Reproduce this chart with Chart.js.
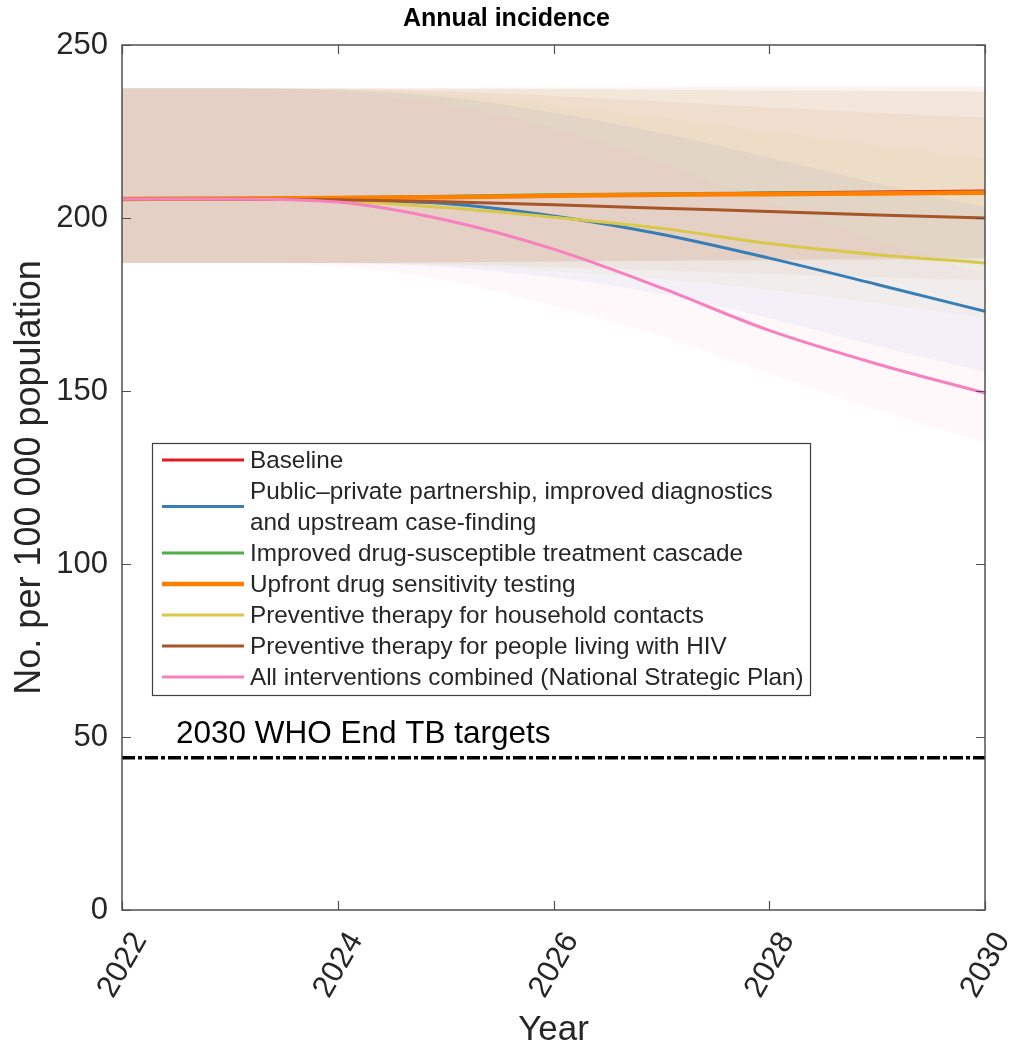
<!DOCTYPE html>
<html>
<head>
<meta charset="utf-8">
<script src="https://cdn.jsdelivr.net/npm/chart.js@4.4.0/dist/chart.umd.min.js"></script>
<style>
  html, body { margin: 0; padding: 0; background: #fff; }
  #wrap { width: 1013px; height: 1051px; position: relative; }
</style>
</head>
<body>
<div id="wrap"><canvas id="chart"></canvas></div>
<script>
// years on the x axis
const years = [2022, 2023, 2024, 2025, 2026, 2027, 2028, 2029, 2030];
const xTicks = [2022, 2024, 2026, 2028, 2030];
const yTicks = [0, 50, 100, 150, 200, 250];

// median incidence per scenario (per 100 000)
const baseline  = [205.5, 205.6, 205.8, 206.1, 206.5, 206.9, 207.2, 207.5, 207.8];
const ppp       = [205.5, 205.5, 205.2, 204.2, 200.6, 195.3, 188.4, 180.8, 173.0];
const dsCascade = [205.5, 205.6, 205.9, 206.3, 206.7, 207.0, 207.2, 207.3, 207.5];
const upfrontDst = [205.5, 205.6, 205.8, 206.0, 206.4, 206.7, 206.9, 207.1, 207.3];
const tptHousehold = [205.5, 205.5, 205.0, 203.0, 200.2, 197.0, 192.6, 189.4, 187.0];
const tptHiv    = [205.5, 205.5, 205.3, 204.7, 203.8, 202.8, 201.9, 200.9, 200.0];
const combined  = [205.5, 205.5, 204.6, 199.4, 191.0, 179.8, 167.5, 157.8, 149.4];

// uncertainty bands
const baselineLo = [187, 187, 187, 187.2, 187.5, 187.8, 188, 188.2, 188.5];
const baselineHi = [237.5, 237.5, 237.5, 237.6, 237.7, 237.8, 237.9, 238, 238];
const pppLo = [187, 187, 186.9, 185.8, 182.8, 178, 171, 163, 155.5];
const pppHi = [237.5, 237.5, 237, 235, 230.5, 224.5, 217.5, 210, 203];
const dsCascadeLo = [187, 187, 187, 187.2, 187.4, 187.6, 187.8, 188, 188];
const dsCascadeHi = [237.5, 237.5, 237.4, 237.3, 237.2, 237, 236.8, 236.6, 236.4];
const upfrontDstLo = [187, 187, 187, 187.1, 187.3, 187.5, 187.6, 187.8, 188];
const upfrontDstHi = [237.5, 237.5, 237.5, 237.4, 237.3, 237.1, 237, 236.8, 236.6];
const tptHouseholdLo = [187, 187, 187, 186.2, 184.6, 182.3, 179.2, 175.3, 171];
const tptHouseholdHi = [237.5, 237.5, 237.1, 235.7, 232.8, 229, 225, 221, 217];
const tptHivLo = [187, 187, 187, 186.6, 185.8, 184.8, 183.8, 182.8, 182];
const tptHivHi = [237.5, 237.5, 237.3, 236.6, 235.3, 233.7, 232, 230.4, 229];
const combinedLo = [187, 187, 186, 182, 174.5, 166, 155, 144.5, 135];
const combinedHi = [237.5, 237.5, 236.5, 233, 226, 216, 204.5, 193.5, 184];

const target2030 = 44;
const targetLabel = "2030 WHO End TB targets";

const seriesNames = [
  ["Baseline"],
  ["Public\u2013private partnership, improved diagnostics", "and upstream case-finding"],
  ["Improved drug-susceptible treatment cascade"],
  ["Upfront drug sensitivity testing"],
  ["Preventive therapy for household contacts"],
  ["Preventive therapy for people living with HIV"],
  ["All interventions combined (National Strategic Plan)"]
];

const FONT = "'Liberation Sans', Arial, Helvetica, sans-serif";
const TEXT = "#262626";
const AXIS = "#505050";
const bandAlpha = 0.06;

const series = [
  { mid: baseline, lo: baselineLo, hi: baselineHi, color: [228, 26, 28], width: 3 },
  { mid: ppp, lo: pppLo, hi: pppHi, color: [55, 126, 184], width: 3 },
  { mid: dsCascade, lo: dsCascadeLo, hi: dsCascadeHi, color: [77, 175, 74], width: 3 },
  { mid: upfrontDst, lo: upfrontDstLo, hi: upfrontDstHi, color: [255, 127, 0], width: 4.5 },
  { mid: tptHousehold, lo: tptHouseholdLo, hi: tptHouseholdHi, color: [217, 200, 74], width: 3 },
  { mid: tptHiv, lo: tptHivLo, hi: tptHivHi, color: [166, 86, 40], width: 3 },
  { mid: combined, lo: combinedLo, hi: combinedHi, color: [247, 129, 191], width: 3 }
];

function pts(vals) {
  return years.map(function (x, i) { return { x: x, y: vals[i] }; });
}
function rgba(c, a) {
  return "rgba(" + c[0] + "," + c[1] + "," + c[2] + "," + a + ")";
}

var datasets = [];
series.forEach(function (s) {
  datasets.push({
    data: pts(s.lo), borderWidth: 0, pointRadius: 0, fill: false,
    cubicInterpolationMode: "monotone", order: 20
  });
  datasets.push({
    data: pts(s.hi), borderWidth: 0, pointRadius: 0, fill: "-1",
    backgroundColor: rgba(s.color, bandAlpha),
    cubicInterpolationMode: "monotone", order: 20
  });
});
series.forEach(function (s, i) {
  datasets.push({
    label: seriesNames[i].join(" "),
    data: pts(s.mid), borderColor: rgba(s.color, 1), borderWidth: s.width,
    pointRadius: 0, fill: false, cubicInterpolationMode: "monotone",
    order: 10 - i, isLine: true
  });
});
datasets.push({
  label: targetLabel,
  data: [{ x: years[0], y: target2030 }, { x: years[years.length - 1], y: target2030 }],
  borderColor: "#000", borderWidth: 3.5, borderDash: [13, 3, 4, 3],
  pointRadius: 0, fill: false, order: 0
});

// MATLAB style box, inward ticks, target label and legend
const matlabAxes = {
  id: "matlabAxes",
  afterDatasetsDraw: function (chart) {
    var ctx = chart.ctx;
    var a = chart.chartArea;
    var xs = chart.scales.x, ys = chart.scales.y;
    ctx.save();

    // ticks
    ctx.strokeStyle = AXIS;
    ctx.lineWidth = 1.2;
    ctx.beginPath();
    xTicks.forEach(function (t) {
      var px = Math.round(xs.getPixelForValue(t)) + 0.5;
      ctx.moveTo(px, a.bottom); ctx.lineTo(px, a.bottom - 9);
      ctx.moveTo(px, a.top); ctx.lineTo(px, a.top + 9);
    });
    yTicks.forEach(function (t) {
      var py = Math.round(ys.getPixelForValue(t)) + 0.5;
      ctx.moveTo(a.left, py); ctx.lineTo(a.left + 9, py);
      ctx.moveTo(a.right, py); ctx.lineTo(a.right - 9, py);
    });
    ctx.stroke();

    // box
    ctx.lineWidth = 1.5;
    ctx.strokeRect(a.left, a.top, a.right - a.left, a.bottom - a.top);

    // target annotation
    ctx.fillStyle = "#000";
    ctx.font = "31.5px " + FONT;
    ctx.textAlign = "left";
    ctx.textBaseline = "middle";
    ctx.fillText(targetLabel, xs.getPixelForValue(2022.5), ys.getPixelForValue(target2030) - 23);

    // legend
    var lx = a.left + 30, ly = a.top + 398, lw = 658, rowH = 31;
    var nLines = 0;
    seriesNames.forEach(function (n) { nLines += n.length; });
    var lh = nLines * rowH + 4;
    ctx.fillStyle = "#fff";
    ctx.fillRect(lx, ly, lw, lh);
    ctx.strokeStyle = "#404040";
    ctx.lineWidth = 1.2;
    ctx.strokeRect(lx + 0.5, ly + 0.5, lw, lh);
    ctx.font = "24.3px " + FONT;
    ctx.fillStyle = TEXT;
    var y = ly + 17;
    var lineSets = chart.data.datasets.filter(function (d) { return d.isLine; });
    lineSets.forEach(function (d, i) {
      var names = seriesNames[i];
      var cy = y + (names.length - 1) * rowH / 2;
      ctx.strokeStyle = d.borderColor;
      ctx.lineWidth = d.borderWidth;
      ctx.setLineDash([]);
      ctx.beginPath();
      ctx.moveTo(lx + 10, cy);
      ctx.lineTo(lx + 92, cy);
      ctx.stroke();
      names.forEach(function (n, k) {
        ctx.fillText(n, lx + 98, y + k * rowH + 1);
      });
      y += names.length * rowH;
    });
    ctx.restore();
  }
};

new Chart(document.getElementById("chart"), {
  type: "line",
  data: { datasets: datasets },
  options: {
    responsive: true,
    maintainAspectRatio: false,
    animation: false,
    events: [],
    layout: { padding: 0 },
    plugins: {
      legend: { display: false },
      tooltip: { enabled: false },
      filler: { drawTime: "beforeDatasetsDraw" },
      title: {
        display: true,
        text: "Annual incidence",
        color: "#000",
        font: { family: FONT, size: 25, weight: "bold" },
        padding: { top: 4, bottom: 11 }
      }
    },
    scales: {
      x: {
        type: "linear",
        min: 2022,
        max: 2030,
        afterBuildTicks: function (s) { s.ticks = xTicks.map(function (v) { return { value: v }; }); },
        ticks: {
          minRotation: 60, maxRotation: 60, padding: 16, labelOffset: 18,
          color: TEXT, font: { family: FONT, size: 31 },
          callback: function (v) { return String(v); }
        },
        grid: { display: false, drawTicks: false },
        border: { display: false },
        title: { display: true, text: "Year", color: TEXT, font: { family: FONT, size: 35 }, padding: 0 },
        afterFit: function (s) { s.height = 141; s.paddingRight = 28; s.paddingLeft = 0; }
      },
      y: {
        min: 0,
        max: 250,
        afterBuildTicks: function (s) { s.ticks = yTicks.map(function (v) { return { value: v }; }); },
        ticks: { padding: 14, color: TEXT, font: { family: FONT, size: 31 } },
        grid: { display: false, drawTicks: false },
        border: { display: false },
        title: {
          display: true, text: "No. per 100 000 population", color: TEXT,
          font: { family: FONT, size: 36 }, padding: { top: 8, bottom: 0 }
        },
        afterFit: function (s) { s.width = 122; }
      }
    }
  },
  plugins: [matlabAxes]
});
</script>
</body>
</html>
